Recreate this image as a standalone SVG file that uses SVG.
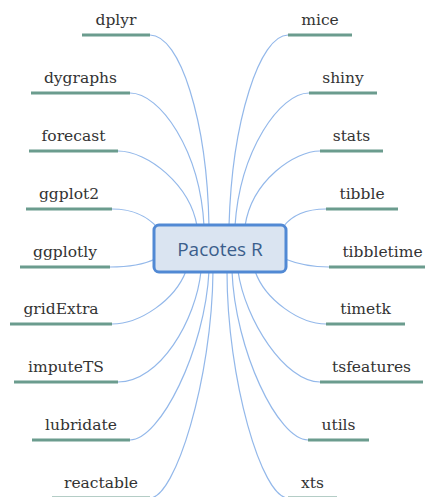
<svg xmlns="http://www.w3.org/2000/svg" width="425" height="497" viewBox="0 0 425 497">
<style>
.c{fill:none;stroke:#93b8ea;stroke-width:1.2}
.u{stroke:#6b9c8e;stroke-width:3;stroke-linecap:butt}
.t{font-family:"DejaVu Serif",Georgia,serif;font-size:15.5px;fill:#333;text-anchor:middle}
.box{fill:#dae4f1;stroke:#5189d4;stroke-width:3}
.bt{font-family:"Open Sans","Noto Sans",sans-serif;font-size:19px;fill:#3b5e8c;text-anchor:middle}
</style>
<rect width="425" height="497" fill="#fff"/>
<g id="connectors">
<path class="c" d="M150 35 C180 35 207 120 209 226"/>
<path class="c" d="M130 93 C160 93 200 150 204 226"/>
<path class="c" d="M118 151 C148 151 190 185 197 226"/>
<path class="c" d="M112 209 C135 209 148 217 158 228"/>
<path class="c" d="M110 267 C130 267 145 264 155 259"/>
<path class="c" d="M112 324 C140 324 175 300 186 271"/>
<path class="c" d="M118 382 C160 382 196 320 201 271"/>
<path class="c" d="M130 440 C160 440 205 350 209 271"/>
<path class="c" d="M150 498 C175 498 212 380 213 271"/>
<path class="c" d="M288 35 C260 35 232 120 229 226"/>
<path class="c" d="M309 93 C280 93 240 150 235 226"/>
<path class="c" d="M320 151 C295 151 252 180 245 226"/>
<path class="c" d="M326 209 C305 209 292 215 283 227"/>
<path class="c" d="M329 267 C310 267 295 263 285 259"/>
<path class="c" d="M326 324 C300 324 265 300 255 271"/>
<path class="c" d="M320 382 C285 382 245 320 238 271"/>
<path class="c" d="M308 440 C278 440 235 350 232 271"/>
<path class="c" d="M288 498 C262 498 227 380 227 271"/>
</g>
<g id="n-dplyr"><line class="u" x1="82" y1="35" x2="150" y2="35"/><text class="t" x="116" y="25">dplyr</text></g>
<g id="n-dygraphs"><line class="u" x1="31" y1="93" x2="130" y2="93"/><text class="t" x="80.5" y="83">dygraphs</text></g>
<g id="n-forecast"><line class="u" x1="29" y1="151" x2="118" y2="151"/><text class="t" x="73.5" y="141">forecast</text></g>
<g id="n-ggplot2"><line class="u" x1="26" y1="209" x2="112" y2="209"/><text class="t" x="69" y="199">ggplot2</text></g>
<g id="n-ggplotly"><line class="u" x1="20" y1="267" x2="110" y2="267"/><text class="t" x="65" y="257">ggplotly</text></g>
<g id="n-gridExtra"><line class="u" x1="10" y1="324" x2="112" y2="324"/><text class="t" x="61" y="314">gridExtra</text></g>
<g id="n-imputeTS"><line class="u" x1="14" y1="382" x2="118" y2="382"/><text class="t" x="66" y="372">imputeTS</text></g>
<g id="n-lubridate"><line class="u" x1="32" y1="440" x2="130" y2="440"/><text class="t" x="81" y="430">lubridate</text></g>
<g id="n-reactable"><line class="u" x1="52" y1="498" x2="150" y2="498"/><text class="t" x="101" y="488">reactable</text></g>
<g id="n-mice"><line class="u" x1="288" y1="35" x2="352" y2="35"/><text class="t" x="320" y="25">mice</text></g>
<g id="n-shiny"><line class="u" x1="309" y1="93" x2="377" y2="93"/><text class="t" x="343" y="83">shiny</text></g>
<g id="n-stats"><line class="u" x1="320" y1="151" x2="383" y2="151"/><text class="t" x="351.5" y="141">stats</text></g>
<g id="n-tibble"><line class="u" x1="326" y1="209" x2="398" y2="209"/><text class="t" x="362" y="199">tibble</text></g>
<g id="n-tibbletime"><line class="u" x1="329" y1="267" x2="436" y2="267"/><text class="t" x="382.5" y="257">tibbletime</text></g>
<g id="n-timetk"><line class="u" x1="326" y1="324" x2="405" y2="324"/><text class="t" x="365.5" y="314">timetk</text></g>
<g id="n-tsfeatures"><line class="u" x1="320" y1="382" x2="423" y2="382"/><text class="t" x="371.5" y="372">tsfeatures</text></g>
<g id="n-utils"><line class="u" x1="308" y1="440" x2="369" y2="440"/><text class="t" x="338.5" y="430">utils</text></g>
<g id="n-xts"><line class="u" x1="288" y1="498" x2="337" y2="498"/><text class="t" x="312.5" y="488">xts</text></g>
<g id="n-root"><rect class="box" x="154" y="225" width="132" height="47" rx="5"/><text class="bt" x="220" y="256">Pacotes R</text></g>
</svg>
